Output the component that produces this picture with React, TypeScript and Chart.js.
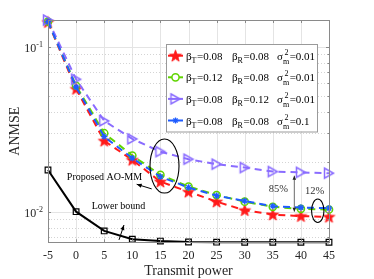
import React, { useEffect, useRef } from "react";
import { Chart, registerables } from "chart.js";
Chart.register(...registerables);

// ---- data ----
const transmitPower = [-5, 0, 5, 10, 15, 20, 25, 30, 35, 40, 45];
const seriesRed = [0.141, 0.0555, 0.0269, 0.0206, 0.0152, 0.0132, 0.0115, 0.0102, 0.0096, 0.0094, 0.0093];
const seriesGreen = [0.142, 0.058, 0.0299, 0.0219, 0.0167, 0.0142, 0.0126, 0.0115, 0.0107, 0.0104, 0.0103];
const seriesPurple = [0.145, 0.0634, 0.0355, 0.0276, 0.0231, 0.0208, 0.0194, 0.0185, 0.0175, 0.0173, 0.0171];
const seriesBlue = [0.142, 0.057, 0.0285, 0.0211, 0.0163, 0.014, 0.0125, 0.0116, 0.0108, 0.0106, 0.0105];
const lowerBound = [0.0179, 0.01, 0.00764, 0.00681, 0.00663, 0.00655, 0.00653, 0.00652, 0.00652, 0.00652, 0.00652];

const xTicks = [-5, 0, 5, 10, 15, 20, 25, 30, 35, 40, 45];
const yDecades = [0.01, 0.1];
const yDecadeExp = ["-2", "-1"];
const legendBetaT = ["0.08", "0.12", "0.08", "0.08"];
const legendBetaR = ["0.08", "0.08", "0.12", "0.08"];
const legendSigma = ["0.01", "0.01", "0.01", "0.1"];

const X_MIN = -5, X_MAX = 45, Y_MIN = 0.00652, Y_MAX = 0.1452;

const RED = "#ff1a1a";
const GREEN = "#5fd400";
const PURPLE = "#8a6cff";
const BLUE = "#1f5cff";
const SERIF = '"Liberation Serif", "Times New Roman", serif';

function makeStar(color: string, R: number) {
  const size = Math.ceil(R * 2 + 2);
  const c = document.createElement("canvas");
  c.width = size; c.height = size;
  const g = c.getContext("2d")!;
  const cx = size / 2, cy = size / 2 + 0.5, r = R * 0.42;
  g.beginPath();
  for (let i = 0; i < 10; i++) {
    const rad = i % 2 === 0 ? R : r;
    const a = -Math.PI / 2 + (i * Math.PI) / 5;
    const px = cx + rad * Math.cos(a), py = cy + rad * Math.sin(a);
    if (i) g.lineTo(px, py); else g.moveTo(px, py);
  }
  g.closePath();
  g.fillStyle = color; g.fill();
  g.strokeStyle = color; g.lineWidth = 0.8; g.stroke();
  return c;
}

function makeTriRight(color: string) {
  const c = document.createElement("canvas");
  c.width = 14; c.height = 14;
  const g = c.getContext("2d")!;
  g.beginPath();
  g.moveTo(2.5, 2); g.lineTo(11.5, 7); g.lineTo(2.5, 12); g.closePath();
  g.strokeStyle = color; g.lineWidth = 1.5; g.stroke();
  return c;
}

function drawArrowHead(ctx: CanvasRenderingContext2D, x1: number, y1: number, x2: number, y2: number, len = 5, wid = 2) {
  const a = Math.atan2(y2 - y1, x2 - x1);
  ctx.beginPath();
  ctx.moveTo(x2, y2);
  ctx.lineTo(x2 - len * Math.cos(a) + wid * Math.sin(a), y2 - len * Math.sin(a) - wid * Math.cos(a));
  ctx.lineTo(x2 - len * Math.cos(a) - wid * Math.sin(a), y2 - len * Math.sin(a) + wid * Math.cos(a));
  ctx.closePath();
  ctx.fill();
}

export default function App() {
  const ref = useRef<HTMLCanvasElement | null>(null);
  useEffect(() => {
    if (!ref.current) return;
    const starImg = makeStar(RED, 6.2);
    const triImg = makeTriRight(PURPLE);

    const decor = {
      id: "decor",
      beforeDraw(chart: any) {
        const ctx = chart.ctx;
        ctx.save();
        ctx.fillStyle = "#ffffff";
        ctx.fillRect(0, 0, chart.width, chart.height);
        ctx.restore();
      },
      beforeDatasetsDraw(chart: any) {
        const ctx = chart.ctx as CanvasRenderingContext2D;
        const { left, right, top, bottom } = chart.chartArea;
        const xs = chart.scales.x, ys = chart.scales.y;
        ctx.save();
        ctx.lineWidth = 1;
        ctx.strokeStyle = "#e4e4e4";
        for (const v of xTicks) {
          const px = Math.round(xs.getPixelForValue(v)) + 0.5;
          ctx.beginPath(); ctx.moveTo(px, top); ctx.lineTo(px, bottom); ctx.stroke();
        }
        for (const v of yDecades) {
          const py = Math.round(ys.getPixelForValue(v)) + 0.5;
          ctx.beginPath(); ctx.moveTo(left, py); ctx.lineTo(right, py); ctx.stroke();
        }
        ctx.setLineDash([1, 2]);
        ctx.strokeStyle = "#d4d4d4";
        for (const d of [0.001, 0.01, 0.1]) {
          for (let k = 2; k <= 9; k++) {
            const v = d * k;
            if (v <= Y_MIN || v >= Y_MAX) continue;
            const py = Math.round(ys.getPixelForValue(v)) + 0.5;
            ctx.beginPath(); ctx.moveTo(left, py); ctx.lineTo(right, py); ctx.stroke();
          }
        }
        ctx.restore();
      },
      afterDatasetsDraw(chart: any) {
        const ctx = chart.ctx as CanvasRenderingContext2D;
        const { left, right, top, bottom } = chart.chartArea;
        const xs = chart.scales.x, ys = chart.scales.y;
        const X = (v: number) => xs.getPixelForValue(v);
        const Y = (v: number) => ys.getPixelForValue(v);
        ctx.save();
        // box
        ctx.strokeStyle = "#8a8a8a";
        ctx.lineWidth = 1;
        ctx.strokeRect(Math.round(left) + 0.5, Math.round(top) + 0.5, Math.round(right - left), Math.round(bottom - top));
        // ticks
        ctx.beginPath();
        for (const v of xTicks) {
          const px = Math.round(X(v)) + 0.5;
          ctx.moveTo(px, bottom); ctx.lineTo(px, bottom - 3);
          ctx.moveTo(px, top); ctx.lineTo(px, top + 3);
        }
        for (const v of yDecades) {
          const py = Math.round(Y(v)) + 0.5;
          ctx.moveTo(left, py); ctx.lineTo(left + 3, py);
          ctx.moveTo(right, py); ctx.lineTo(right - 3, py);
        }
        for (const d of [0.001, 0.01, 0.1]) {
          for (let k = 2; k <= 9; k++) {
            const v = d * k;
            if (v <= Y_MIN || v >= Y_MAX) continue;
            const py = Math.round(Y(v)) + 0.5;
            ctx.moveTo(left, py); ctx.lineTo(left + 1.5, py);
            ctx.moveTo(right, py); ctx.lineTo(right - 1.5, py);
          }
        }
        ctx.stroke();

        // tick labels
        ctx.fillStyle = "#262626";
        ctx.font = `12px ${SERIF}`;
        ctx.textAlign = "center";
        ctx.textBaseline = "middle";
        for (const v of xTicks) ctx.fillText(String(v), X(v), 256);
        ctx.textBaseline = "alphabetic";
        yDecades.forEach((v, i) => {
          const py = Y(v);
          ctx.font = `8px ${SERIF}`;
          const ew = ctx.measureText(yDecadeExp[i]).width;
          ctx.textAlign = "right";
          ctx.fillText(yDecadeExp[i], 43, py + 0.5);
          ctx.font = `12px ${SERIF}`;
          ctx.fillText("10", 43 - ew, py + 5);
        });

        // axis titles
        ctx.font = `14px ${SERIF}`;
        ctx.textAlign = "center";
        ctx.textBaseline = "alphabetic";
        ctx.fillText("Transmit power", (left + right) / 2, 275);
        ctx.save();
        ctx.translate(19, (top + bottom) / 2);
        ctx.rotate(-Math.PI / 2);
        ctx.fillText("ANMSE", 0, 0);
        ctx.restore();

        // annotations
        ctx.fillStyle = "#000";
        ctx.strokeStyle = "#000";
        ctx.lineWidth = 1.1;
        ctx.beginPath();
        ctx.ellipse(X(15.73), Y(0.0189), 14.5, 27, 0, 0, Math.PI * 2);
        ctx.stroke();
        ctx.beginPath();
        ctx.ellipse(X(43.0), Y(0.01013), 6.2, 11.8, 0, 0, Math.PI * 2);
        ctx.stroke();

        ctx.font = `10px ${SERIF}`;
        ctx.textAlign = "center";
        ctx.textBaseline = "middle";
        ctx.fillText("Proposed AO-MM", X(5.05), Y(0.0161));
        ctx.fillText("Lower bound", X(7.54), Y(0.01084));
        ctx.font = `10.5px ${SERIF}`;
        ctx.fillStyle = "#333";
        ctx.fillText("85%", X(36.0), Y(0.01374));
        ctx.fillText("12%", X(42.42), Y(0.01334));
        ctx.fillStyle = "#000";

        // arrow 1
        let ax1 = X(13.45), ay1 = Y(0.01374), ax2 = X(10.78), ay2 = Y(0.01466);
        ctx.lineWidth = 1;
        ctx.beginPath(); ctx.moveTo(ax1, ay1); ctx.lineTo(ax2, ay2); ctx.stroke();
        drawArrowHead(ctx, ax1, ay1, ax2, ay2);
        // arrow 2
        ax1 = X(7.63); ay1 = Y(0.00674); ax2 = X(8.52); ay2 = Y(0.0083);
        ctx.beginPath(); ctx.moveTo(ax1, ay1); ctx.lineTo(ax2, ay2); ctx.stroke();
        drawArrowHead(ctx, ax1, ay1, ax2, ay2);
        // double arrow
        const dx = X(38.83), dy1 = Y(0.01652), dy2 = Y(0.0100);
        ctx.strokeStyle = "#444"; ctx.fillStyle = "#222";
        ctx.lineWidth = 0.8;
        ctx.beginPath(); ctx.moveTo(dx, dy1); ctx.lineTo(dx, dy2); ctx.stroke();
        drawArrowHead(ctx, dx, dy2, dx, dy1, 4, 1.8);
        drawArrowHead(ctx, dx, dy1, dx, dy2, 4, 1.8);

        // legend
        const lx0 = 166, ly0 = 44, lx1 = 317, ly1 = 131.5;
        ctx.fillStyle = "#fff";
        ctx.fillRect(lx0, ly0, lx1 - lx0, ly1 - ly0);
        ctx.strokeStyle = "#9a9a9a";
        ctx.lineWidth = 1;
        ctx.strokeRect(lx0 + 0.5, ly0 + 0.5, lx1 - lx0, ly1 - ly0);
        const colors = [RED, GREEN, PURPLE, BLUE];
        for (let i = 0; i < 4; i++) {
          const cy = 55.7 + i * 21.6;
          ctx.strokeStyle = colors[i];
          ctx.lineWidth = 2;
          ctx.setLineDash([]);
          ctx.beginPath(); ctx.moveTo(168, cy); ctx.lineTo(183, cy); ctx.stroke();
          const mx = 175.5;
          if (i === 0) ctx.drawImage(starImg, mx - starImg.width / 2, cy - starImg.height / 2);
          else if (i === 1) {
            ctx.fillStyle = "#fff";
            ctx.lineWidth = 1.5;
            ctx.beginPath(); ctx.arc(mx, cy, 3.6, 0, Math.PI * 2); ctx.fill(); ctx.stroke();
          } else if (i === 2) ctx.drawImage(triImg, mx - 7, cy - 7);
          else {
            ctx.lineWidth = 1.3;
            ctx.beginPath();
            const r = 3;
            ctx.moveTo(mx - r, cy); ctx.lineTo(mx + r, cy);
            ctx.moveTo(mx, cy - r); ctx.lineTo(mx, cy + r);
            ctx.moveTo(mx - r * 0.7, cy - r * 0.7); ctx.lineTo(mx + r * 0.7, cy + r * 0.7);
            ctx.moveTo(mx - r * 0.7, cy + r * 0.7); ctx.lineTo(mx + r * 0.7, cy - r * 0.7);
            ctx.stroke();
          }
          // texts
          ctx.fillStyle = "#000";
          ctx.textAlign = "left";
          ctx.textBaseline = "alphabetic";
          const base = cy + 4;
          const drawBeta = (x: number, sub: string, val: string) => {
            ctx.font = `11px ${SERIF}`;
            ctx.fillText("β", x, base);
            let w = ctx.measureText("β").width;
            ctx.font = `8px ${SERIF}`;
            ctx.fillText(sub, x + w, base + 3);
            w += ctx.measureText(sub).width;
            ctx.font = `11px ${SERIF}`;
            ctx.fillText("=" + val, x + w + 0.5, base);
          };
          drawBeta(186, "T", legendBetaT[i]);
          drawBeta(232, "R", legendBetaR[i]);
          ctx.font = `11px ${SERIF}`;
          ctx.fillText("σ", 277, base);
          const sw = ctx.measureText("σ").width;
          ctx.font = `8px ${SERIF}`;
          ctx.fillText("2", 277 + sw + 1.5, base - 5);
          ctx.fillText("m", 277 + sw, base + 4);
          const mw = ctx.measureText("m").width;
          ctx.font = `11px ${SERIF}`;
          ctx.fillText("=" + legendSigma[i], 277 + sw + mw + 0.5, base);
        }
        ctx.restore();
      },
    };

    const mk = (data: number[]) => transmitPower.map((x, i) => ({ x, y: data[i] }));
    const dash = [7, 5];
    const chart = new Chart(ref.current, {
      type: "line",
      data: {
        datasets: [
          {
            data: mk(seriesRed), borderColor: RED, borderWidth: 2, borderDash: dash,
            pointStyle: starImg as any, pointRadius: 5, pointHoverRadius: 5, clip: false as any, order: 5,
          },
          {
            data: mk(seriesGreen), borderColor: GREEN, borderWidth: 2, borderDash: dash,
            pointStyle: "circle", pointRadius: 3.6, pointBorderWidth: 1.5, pointBorderColor: GREEN,
            pointBackgroundColor: "rgba(0,0,0,0)", clip: false as any, order: 4,
          },
          {
            data: mk(seriesPurple), borderColor: PURPLE, borderWidth: 2, borderDash: dash,
            pointStyle: triImg as any, pointRadius: 5, clip: false as any, order: 3,
          },
          {
            data: mk(seriesBlue), borderColor: BLUE, borderWidth: 2, borderDash: dash,
            pointStyle: "star", pointRadius: 3.2, pointBorderWidth: 1.3, pointBorderColor: BLUE,
            pointBackgroundColor: BLUE, clip: false as any, order: 2,
          },
          {
            data: mk(lowerBound), borderColor: "#000", borderWidth: 2,
            pointStyle: "rect", pointRadius: 4, pointBorderWidth: 1.2, pointBorderColor: "#000",
            pointBackgroundColor: "rgba(0,0,0,0)", clip: false as any, order: 1,
          },
        ],
      },
      options: {
        animation: false,
        responsive: false,
        devicePixelRatio: 1,
        events: [],
        layout: { padding: { left: 48, top: 20, right: 45, bottom: 36.7 } },
        plugins: { legend: { display: false }, tooltip: { enabled: false } },
        scales: {
          x: { type: "linear", min: X_MIN, max: X_MAX, display: false },
          y: { type: "logarithmic", min: Y_MIN, max: Y_MAX, display: false },
        },
        elements: { line: { tension: 0 } },
      },
      plugins: [decor],
    });
    return () => chart.destroy();
  }, []);

  return (
    <div style={{ position: "fixed", left: 0, top: 0, width: 374, height: 279, background: "#fff" }}>
      <canvas ref={ref} width={374} height={279} style={{ display: "block", width: 374, height: 279 }} />
    </div>
  );
}
